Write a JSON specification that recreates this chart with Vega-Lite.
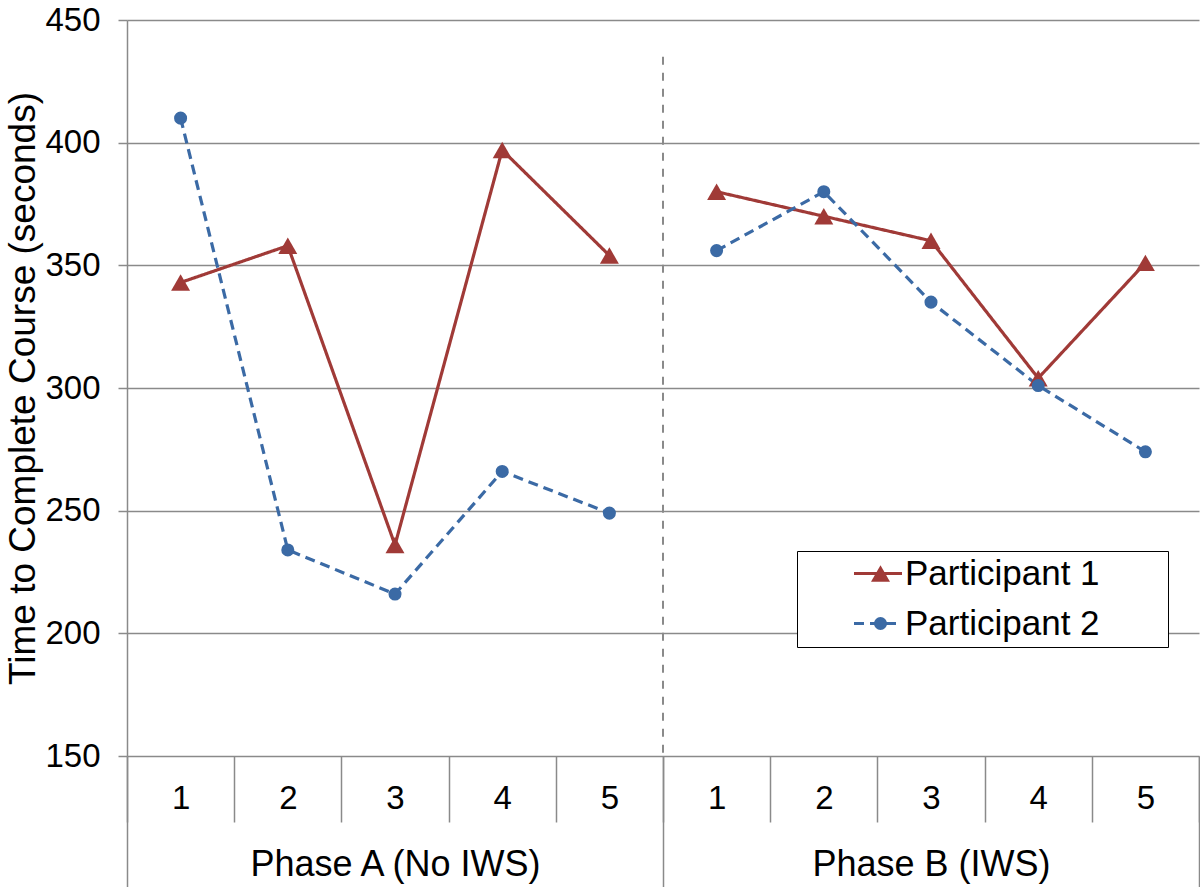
{
  "$schema": "https://vega.github.io/schema/vega-lite/v6.json",
  "width": 1072,
  "height": 736,
  "padding": {"left": 4, "top": 4, "right": 0, "bottom": 0},
  "background": "white",
  "config": {
    "view": {"stroke": null},
    "font": "Liberation Sans",
    "axis": {"labelFont": "Liberation Sans", "titleFont": "Liberation Sans", "labelColor": "#000000", "titleColor": "#000000"},
    "legend": {"labelFont": "Liberation Sans", "labelColor": "#000000"}
  },
  "layer": [
    {
      "data": {
        "values": [
          {"phase": "A", "trial": "A1", "participant": "Participant 1", "time": 343},
          {"phase": "A", "trial": "A2", "participant": "Participant 1", "time": 358},
          {"phase": "A", "trial": "A3", "participant": "Participant 1", "time": 236},
          {"phase": "A", "trial": "A4", "participant": "Participant 1", "time": 397},
          {"phase": "A", "trial": "A5", "participant": "Participant 1", "time": 354},
          {"phase": "B", "trial": "B1", "participant": "Participant 1", "time": 380},
          {"phase": "B", "trial": "B2", "participant": "Participant 1", "time": 370},
          {"phase": "B", "trial": "B3", "participant": "Participant 1", "time": 360},
          {"phase": "B", "trial": "B4", "participant": "Participant 1", "time": 304},
          {"phase": "B", "trial": "B5", "participant": "Participant 1", "time": 351},
          {"phase": "A", "trial": "A1", "participant": "Participant 2", "time": 410},
          {"phase": "A", "trial": "A2", "participant": "Participant 2", "time": 234},
          {"phase": "A", "trial": "A3", "participant": "Participant 2", "time": 216},
          {"phase": "A", "trial": "A4", "participant": "Participant 2", "time": 266},
          {"phase": "A", "trial": "A5", "participant": "Participant 2", "time": 249},
          {"phase": "B", "trial": "B1", "participant": "Participant 2", "time": 356},
          {"phase": "B", "trial": "B2", "participant": "Participant 2", "time": 380},
          {"phase": "B", "trial": "B3", "participant": "Participant 2", "time": 335},
          {"phase": "B", "trial": "B4", "participant": "Participant 2", "time": 301},
          {"phase": "B", "trial": "B5", "participant": "Participant 2", "time": 274}
        ]
      },
      "encoding": {
        "x": {
          "field": "trial",
          "type": "nominal",
          "bandPosition": 0.5,
          "scale": {"type": "band", "paddingInner": 0, "paddingOuter": 0, "domain": ["A1", "A2", "A3", "A4", "A5", "B1", "B2", "B3", "B4", "B5"]},
          "axis": {
            "orient": "bottom",
            "title": null,
            "labelExpr": "substring(datum.label, 1)",
            "tickBand": "extent",
            "tickSize": 66,
            "tickColor": "#8a8a8a",
            "tickWidth": 1.5,
            "domain": false,
            "grid": false,
            "labelFontSize": 33,
            "labelPadding": -24,
            "labelBaseline": "middle",
            "labelAngle": 0
          }
        },
        "y": {
          "field": "time",
          "type": "quantitative",
          "scale": {"domain": [150, 450], "nice": false, "zero": false},
          "axis": {
            "values": [150, 200, 250, 300, 350, 400, 450],
            "grid": true,
            "gridColor": "#8a8a8a",
            "gridWidth": 1.5,
            "tickColor": "#8a8a8a",
            "tickWidth": 1.5,
            "tickSize": 9,
            "domainColor": "#8a8a8a",
            "domainWidth": 1.5,
            "labelFontSize": 33,
            "labelPadding": 18,
            "title": "Time to Complete Course (seconds)",
            "titleFontSize": 37,
            "titleFontWeight": "normal",
            "titlePadding": 2
          }
        }
      },
      "layer": [
        {
          "mark": {"type": "line", "strokeWidth": 3.2},
          "encoding": {
            "color": {
              "field": "participant",
              "type": "nominal",
              "scale": {"range": ["#A03A37", "#3B6AA5"]},
              "legend": {
                "orient": "none",
                "legendX": 670,
                "legendY": 531,
                "title": null,
                "symbolType": "M-2,0L2,0",
                "symbolSize": 576,
                "symbolStrokeWidth": 3,
                "labelFontSize": 35,
                "labelOpacity": 0,
                "labelOffset": 72,
                "labelLimit": 400,
                "padding": 5,
                "symbolOffset": 58.5,
                "rowPadding": 14,
                "strokeColor": "#000000",
                "fillColor": "#ffffff"
              }
            },
            "strokeDash": {
              "field": "participant",
              "type": "nominal",
              "scale": {"range": [[1, 0], [10, 6]]}
            },
            "detail": {"field": "phase", "type": "nominal"}
          }
        },
        {
          "mark": {"type": "point", "filled": true, "opacity": 1, "strokeWidth": 0},
          "encoding": {
            "fill": {
              "field": "participant",
              "type": "nominal",
              "scale": {"domain": ["Participant 1", "Participant 2"], "range": ["#A03A37", "#3B6AA5"]},
              "legend": {
                "orient": "none",
                "legendX": 670,
                "legendY": 531,
                "title": null,
                "labelFontSize": 35,
                "labelLimit": 400,
                "labelOffset": 7,
                "padding": 5,
                "symbolSize": 360,
                "symbolOffset": 61,
                "rowPadding": 14
              }
            },
            "shape": {
              "field": "participant",
              "type": "nominal",
              "scale": {"domain": ["Participant 1", "Participant 2"], "range": ["triangle-up", "circle"]}
            },
            "size": {
              "field": "participant",
              "type": "nominal",
              "scale": {"domain": ["Participant 1", "Participant 2"], "range": [360, 170]}
            }
          }
        }
      ]
    },
    {
      "data": {"values": [{"phase": "Phase B (IWS)", "top": 435, "bottom": 150}]},
      "mark": {"type": "rule", "color": "#8a8a8a", "strokeWidth": 2, "strokeDash": [8, 8]},
      "encoding": {
        "x": {
          "field": "phase",
          "type": "nominal",
          "bandPosition": 0,
          "scale": {"type": "band", "paddingInner": 0, "paddingOuter": 0, "domain": ["Phase A (No IWS)", "Phase B (IWS)"]},
          "axis": {
            "orient": "bottom",
            "title": null,
            "tickBand": "extent",
            "tickSize": 131,
            "tickColor": "#8a8a8a",
            "tickWidth": 1.5,
            "domain": false,
            "grid": false,
            "labelFontSize": 36,
            "labelLimit": 600,
            "labelPadding": -23,
            "labelBaseline": "middle",
            "labelAngle": 0
          }
        },
        "y": {"field": "top", "type": "quantitative"},
        "y2": {"field": "bottom"}
      }
    }
  ],
  "resolve": {"scale": {"x": "independent"}, "axis": {"x": "independent"}}
}
